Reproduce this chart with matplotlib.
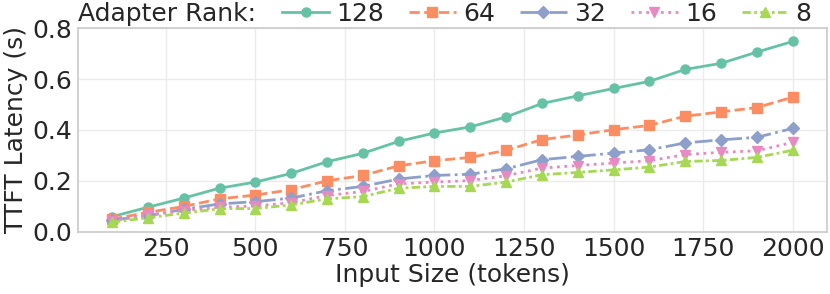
import numpy as np
import matplotlib
matplotlib.use("Agg")
import matplotlib.pyplot as plt

# input sizes (tokens)
input_sizes = list(range(100, 2001, 100))

# TTFT latency (s) per adapter rank
lat_128 = [0.059, 0.096, 0.132, 0.171, 0.195, 0.229, 0.275, 0.308, 0.355, 0.388,
           0.412, 0.451, 0.504, 0.534, 0.563, 0.591, 0.638, 0.662, 0.706, 0.748]
lat_64 = [0.049, 0.076, 0.099, 0.129, 0.144, 0.165, 0.200, 0.221, 0.259, 0.279,
          0.292, 0.320, 0.362, 0.380, 0.401, 0.418, 0.454, 0.471, 0.488, 0.529]
lat_32 = [0.046, 0.062, 0.088, 0.109, 0.118, 0.132, 0.161, 0.178, 0.207, 0.221,
          0.226, 0.247, 0.283, 0.296, 0.309, 0.322, 0.349, 0.361, 0.371, 0.406]
lat_16 = [0.043, 0.066, 0.083, 0.096, 0.101, 0.114, 0.142, 0.158, 0.188, 0.195,
          0.201, 0.220, 0.250, 0.260, 0.270, 0.279, 0.303, 0.312, 0.318, 0.351]
lat_8 = [0.037, 0.055, 0.073, 0.090, 0.091, 0.105, 0.129, 0.138, 0.171, 0.178,
         0.178, 0.195, 0.224, 0.233, 0.243, 0.254, 0.276, 0.280, 0.292, 0.320]

ranks = ["128", "64", "32", "16", "8"]
series = [lat_128, lat_64, lat_32, lat_16, lat_8]
colors = ["#66c2a5", "#fc8d62", "#8da0cb", "#e78ac3", "#a6d854"]
markers = ["o", "s", "D", "v", "^"]
styles = ["-", "--", "-.", ":", (0, (3, 1.2, 1, 1.2))]

text_col = "#262626"
plt.rcParams["font.family"] = ["DejaVu Sans"]
plt.rcParams["font.size"] = 18
plt.rcParams["text.color"] = text_col
plt.rcParams["axes.labelcolor"] = text_col
plt.rcParams["xtick.color"] = text_col
plt.rcParams["ytick.color"] = text_col

fig = plt.figure(figsize=(8.3, 2.94), dpi=100)
ax = fig.add_axes([0.094, 0.212, 0.902, 0.692])

for vals, lab, c, m, ls in zip(series, ranks, colors, markers, styles):
    ax.plot(input_sizes, vals, color=c, marker=m, linestyle=ls, linewidth=2,
            markersize=6.5, label=lab)

ax.set_ylim(0, 0.8)
ax.set_yticks([0.0, 0.2, 0.4, 0.6, 0.8])
ax.set_xticks([250, 500, 750, 1000, 1250, 1500, 1750, 2000])
ax.tick_params(length=0, pad=4)
ax.grid(True, color="#ebebeb", linewidth=1)
ax.set_axisbelow(True)
for sp in ax.spines.values():
    sp.set_color("#cccccc")
    sp.set_linewidth(1.25)

ax.set_xlabel("Input Size (tokens)", labelpad=1)
ax.set_ylabel("TTFT Latency (s)", labelpad=3)

fig.text(78 / 830, 1 - 14 / 294, "Adapter Rank:", va="center", ha="left")
ax.legend(loc="center left", bbox_to_anchor=(282 / 830, 1 - 14 / 294),
          bbox_transform=fig.transFigure, ncol=5, frameon=False,
          borderpad=0, borderaxespad=0, handletextpad=0.28,
          columnspacing=1.0, handlelength=1.88)

fig.savefig("out.png", dpi=100)
